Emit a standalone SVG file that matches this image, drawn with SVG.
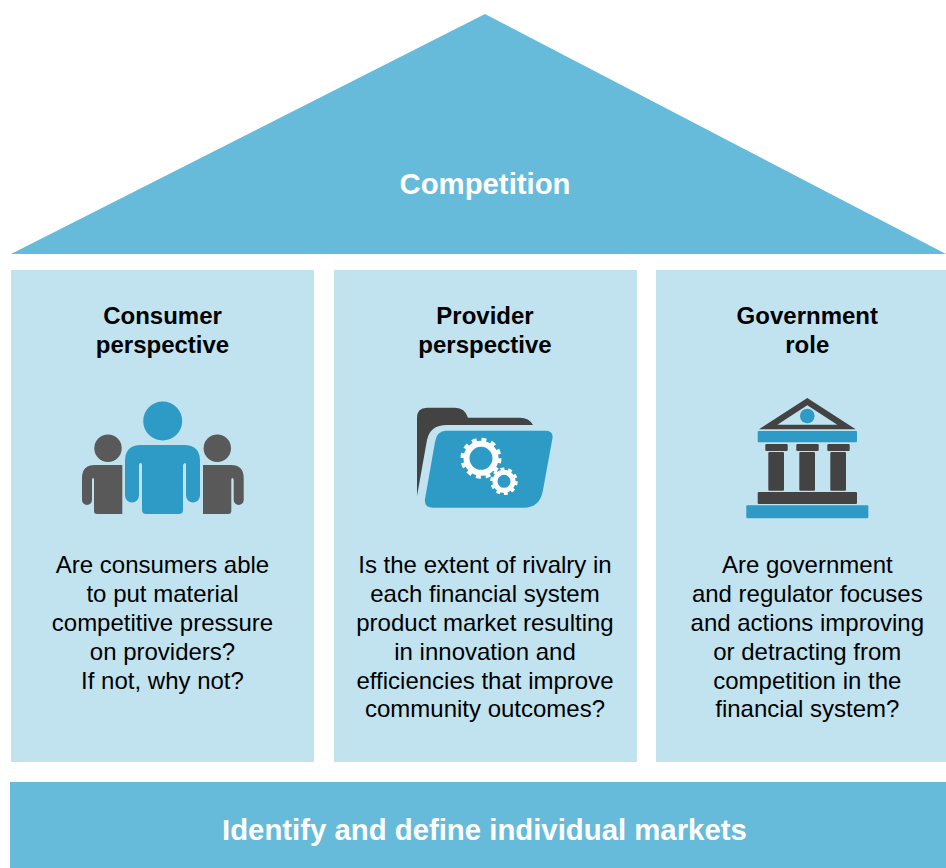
<svg xmlns="http://www.w3.org/2000/svg" width="946" height="868" viewBox="0 0 946 868">
<style>
text{font-family:"Liberation Sans",Arial,sans-serif;text-anchor:middle;fill:#000}
.band{fill:#66BBDB}
.panel{fill:#C1E3F0}
.title{font-size:29.330px;font-weight:700;fill:#fff}
.head{font-size:24px;font-weight:700}
.body{font-size:24px}
.blue{fill:#2E9BC6}
.gray{fill:#595959}
.dark{fill:#434343}
.ring{fill:none;stroke:#fff}
</style>
<rect width="946" height="868" fill="#fff"/>
<g id="roof"><polygon class="band" points="485,14 946,254 11,254"/><text class="title" x="485" y="194">Competition</text></g>
<g id="consumer">
<rect class="panel" x="11" y="270" width="303" height="492"/>
<text class="head" x="162.500" y="324">Consumer</text><text class="head" x="162.500" y="353">perspective</text>
<circle class="blue" cx="162.700" cy="421" r="19.500"/>
<path class="blue" d="M141 445H184Q200 445 200 461V495.500A7 7 0 0 1 186 495.500V465Q186 463 185 463T183 465V510Q183 514 179 514H146Q142 514 142 510V465Q142 463 140.500 463T139 465V495.500A7 7 0 0 1 125 495.500V461Q125 445 141 445Z"/>
<circle class="gray" cx="108" cy="448.300" r="13.700"/>
<path class="gray" d="M122.300 465V514H97Q94 514 94 511V480Q94 478 93 478T92 480V500A5 5 0 0 1 82 500V478Q82 465 95 465Z"/>
<circle class="gray" cx="217.300" cy="448.300" r="13.700"/>
<path class="gray" d="M203 465V514H228.300Q231.300 514 231.300 511V480Q231.300 478 232.300 478T233.700 480V500A5 5 0 0 0 243.700 500V478Q243.700 465 230.700 465Z"/>
<text class="body" x="162.500" y="573">Are consumers able</text>
<text class="body" x="162.500" y="602">to put material</text>
<text class="body" x="162.500" y="631">competitive pressure</text>
<text class="body" x="162.500" y="660">on providers?</text>
<text class="body" x="162.500" y="689">If not, why not?</text>
</g>
<g id="provider">
<rect class="panel" x="334" y="270" width="303" height="492"/>
<text class="head" x="485" y="324">Provider</text><text class="head" x="485" y="353">perspective</text>
<path class="dark" d="M417 496V418Q417 407.700 427 407.700H455Q465 407.700 468 417.700H520Q529 417.700 533 425H447Q430 425 427 440Z"/>
<path class="blue" d="M446 430.700H545Q553.500 430.700 552.500 438L543 490Q540 507.700 524 507.700H433Q424 507.700 425 499L435 442Q437 430.700 446 430.700Z"/>
<circle class="ring" cx="481" cy="458.300" r="14.500" stroke-width="6"/>
<circle class="ring" cx="481" cy="458.300" r="18" stroke-width="5" stroke-dasharray="4.710 4.710"/>
<circle class="ring" cx="504" cy="481.300" r="9" stroke-width="5"/>
<circle class="ring" cx="504" cy="481.300" r="12" stroke-width="3.500" stroke-dasharray="3.770 3.770"/>
<text class="body" x="485" y="573">Is the extent of rivalry in</text>
<text class="body" x="485" y="602">each financial system</text>
<text class="body" x="485" y="631">product market resulting</text>
<text class="body" x="485" y="660">in innovation and</text>
<text class="body" x="485" y="689">efficiencies that improve</text>
<text class="body" x="485" y="717">community outcomes?</text>
</g>
<g id="government">
<rect class="panel" x="656" y="270" width="290" height="492"/>
<text class="head" x="807.300" y="324">Government</text><text class="head" x="807.300" y="353">role</text>
<path class="dark" fill-rule="evenodd" d="M807.300 398L855.700 429.300H759ZM807.300 405.300L777.300 424.700H837.300Z"/>
<circle class="blue" cx="807.300" cy="416" r="7.300"/>
<rect class="blue" x="757.700" y="431" width="99.300" height="11.300" rx="1"/>
<rect class="dark" x="765.300" y="444" width="22.400" height="7" rx="1"/>
<rect class="dark" x="796.300" y="444" width="22.400" height="7" rx="1"/>
<rect class="dark" x="827.300" y="444" width="22.400" height="7" rx="1"/>
<rect class="dark" x="768.300" y="452" width="15.700" height="38.700" rx="1"/>
<rect class="dark" x="799.300" y="452" width="15.700" height="38.700" rx="1"/>
<rect class="dark" x="830.300" y="452" width="15.700" height="38.700" rx="1"/>
<rect class="dark" x="757.700" y="492" width="99.300" height="12" rx="1"/>
<rect class="blue" x="746.300" y="505.300" width="122" height="13" rx="1"/>
<text class="body" x="807.300" y="573">Are government</text>
<text class="body" x="807.300" y="602">and regulator focuses</text>
<text class="body" x="807.300" y="631">and actions improving</text>
<text class="body" x="807.300" y="660">or detracting from</text>
<text class="body" x="807.300" y="689">competition in the</text>
<text class="body" x="807.300" y="717">financial system?</text>
</g>
<g id="foundation"><rect class="band" x="10" y="782" width="936" height="86"/><text class="title" x="484.400" y="840">Identify and define individual markets</text></g>
<g id="connectors"/>
</svg>
